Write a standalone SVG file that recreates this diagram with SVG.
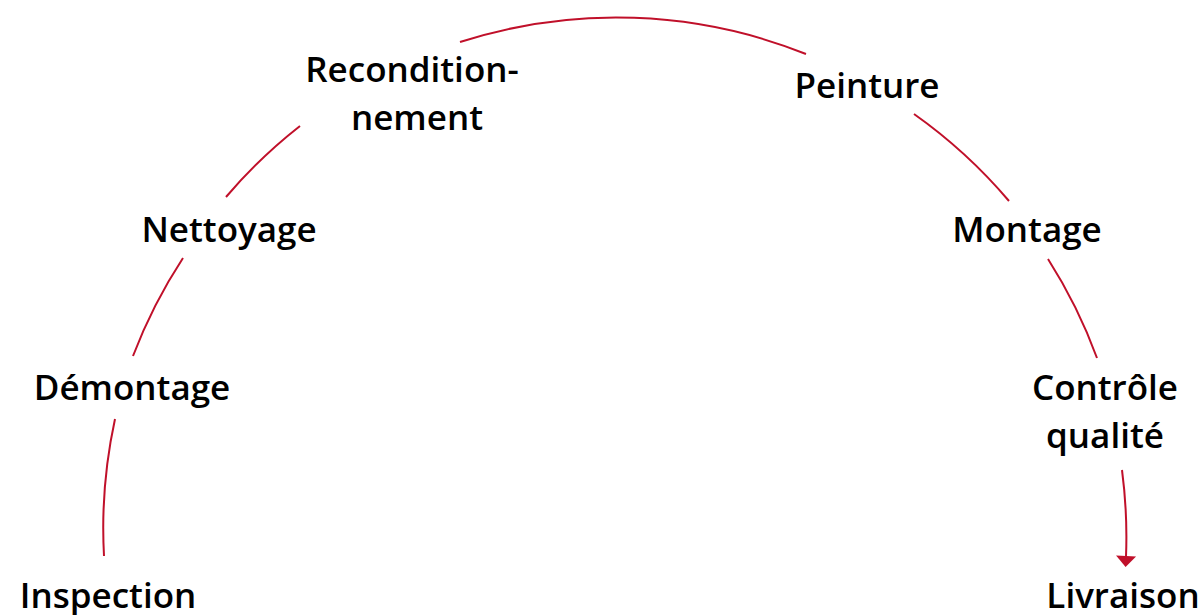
<svg xmlns="http://www.w3.org/2000/svg" width="1200" height="615" viewBox="0 0 1200 615">
<style>
.lbl{font-family:"Open Sans","Liberation Sans",sans-serif;font-size:35px;font-weight:600;fill:#000;text-anchor:middle}
.arc{fill:none;stroke:#c0102a;stroke-width:2}
</style>
<defs>
<marker id="ah" markerUnits="userSpaceOnUse" markerWidth="24" markerHeight="24" refX="1" refY="12" orient="auto" overflow="visible">
<path d="M0,2 L11,12 L0,22 Z" fill="#c0102a"/>
</marker>
</defs>
<rect width="1200" height="615" fill="#fff"/>
<g id="connectors">
<path class="arc" d="M104,556 A512,512 0 0 1 115,419"/>
<path class="arc" d="M133,356 A512,512 0 0 1 183,258"/>
<path class="arc" d="M226,197 A512,512 0 0 1 300,126"/>
<path class="arc" d="M460,42 A512,512 0 0 1 806,54"/>
<path class="arc" d="M914,114 A512,512 0 0 1 1009,201"/>
<path class="arc" d="M1048,259 A512,512 0 0 1 1097,358"/>
<path class="arc" d="M1122,470 A512,512 0 0 1 1126,557" marker-end="url(#ah)"/>
</g>
<g id="n-inspection"><text class="lbl" x="108" y="608">Inspection</text></g>
<g id="n-demontage"><text class="lbl" x="132" y="400">Démontage</text></g>
<g id="n-nettoyage"><text class="lbl" x="229" y="242">Nettoyage</text></g>
<g id="n-recond"><text class="lbl" x="412" y="82">Recondition-</text><text class="lbl" x="417" y="130">nement</text></g>
<g id="n-peinture"><text class="lbl" x="867" y="98">Peinture</text></g>
<g id="n-montage"><text class="lbl" x="1027" y="242">Montage</text></g>
<g id="n-controle"><text class="lbl" x="1105" y="400">Contrôle</text><text class="lbl" x="1105" y="448">qualité</text></g>
<g id="n-livraison"><text class="lbl" x="1123" y="608">Livraison</text></g>
</svg>
